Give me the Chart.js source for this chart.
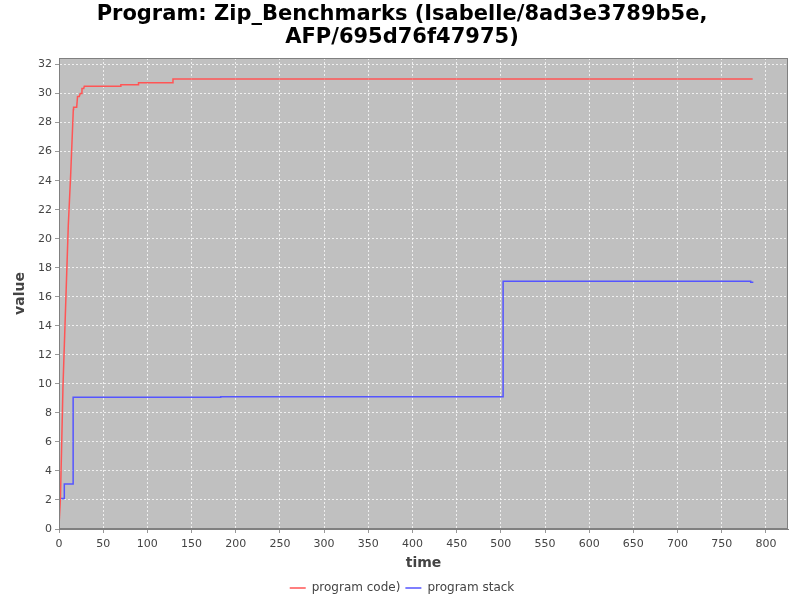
<!DOCTYPE html>
<html>
<head>
<meta charset="utf-8">
<script src="https://cdn.jsdelivr.net/npm/chart.js@4.4.0/dist/chart.umd.min.js"></script>
<style>
html, body { margin: 0; padding: 0; background: #fff; }
</style>
</head>
<body>
<canvas id="chart" width="800" height="600"></canvas>
<script>
// values
const codeTime  = [0, 1.6, 2.8, 4.5, 10.5, 13.2, 16.2, 16.5, 20, 21, 23, 24, 25.5, 26, 28, 28.6, 70, 70, 90, 90, 129, 129, 785];
const codeValue = [0.2, 2.1, 5.2, 9.8, 20.9, 24.4, 28.9, 29.05, 29.05, 29.8, 29.8, 30.0, 30.0, 30.35, 30.35, 30.5, 30.5, 30.6, 30.6, 30.75, 30.75, 31.0, 31.0];

const stackTime  = [0, 6, 6, 16, 16, 183, 183, 502.6, 502.6, 782.8, 782.8, 785.8];
const stackValue = [2.1, 2.1, 3.1, 3.1, 9.08, 9.08, 9.12, 9.12, 17.07, 17.07, 17.0, 17.0];

const seriesNames = ['program code)', 'program stack'];
const titleLines = ['Program: Zip_Benchmarks (Isabelle/8ad3e3789b5e,', 'AFP/695d76f47975)'];

function toPoints(xs, ys) {
    return xs.map((x, i) => ({ x: x, y: ys[i] }));
}

// grey plot background and outline
const plotBackground = {
    id: 'plotBackground',
    beforeDraw(chart) {
        const { ctx, chartArea: a } = chart;
        ctx.save();
        ctx.fillStyle = '#c0c0c0';
        ctx.fillRect(a.left, a.top, a.right - a.left, a.bottom - a.top);
        ctx.restore();
    },
    afterDraw(chart) {
        const { ctx, chartArea: a } = chart;
        ctx.save();
        ctx.strokeStyle = '#808080';
        ctx.lineWidth = 1;
        ctx.strokeRect(a.left + 0.5, a.top + 0.5, a.right - a.left - 1, a.bottom - a.top - 1);
        ctx.restore();
    }
};

const tickFont = { family: 'DejaVu Sans', size: 11 };
const axisTitleFont = { family: 'DejaVu Sans', size: 14, weight: 'bold', lineHeight: 1.2 };

new Chart(document.getElementById('chart'), {
    type: 'line',
    data: {
        datasets: [{
            label: seriesNames[0],
            data: toPoints(codeTime, codeValue),
            borderColor: '#ff5555',
            backgroundColor: '#ff5555',
            borderWidth: 1.5,
            pointRadius: 0,
            tension: 0
        }, {
            label: seriesNames[1],
            data: toPoints(stackTime, stackValue),
            borderColor: '#5555ff',
            backgroundColor: '#5555ff',
            borderWidth: 1.5,
            pointRadius: 0,
            tension: 0
        }]
    },
    options: {
        responsive: false,
        animation: false,
        layout: { padding: { left: 16, right: 12, top: 0, bottom: -4 } },
        scales: {
            x: {
                type: 'linear',
                min: 0,
                max: 825,
                afterFit(scale) { scale.height = 48; },
                ticks: { stepSize: 50, includeBounds: false, font: tickFont, color: '#444', padding: 5, maxRotation: 0 },
                grid: { color: 'rgba(255,255,255,0.75)', lineWidth: 1, tickLength: 4, tickColor: '#999', tickBorderDash: [] },
                border: { display: true, color: '#808080', dash: [2, 2] },
                title: { display: true, text: 'time', font: axisTitleFont, color: '#444', padding: { top: 0, bottom: 5.6 } }
            },
            y: {
                min: 0,
                max: 32.45,
                afterFit(scale) { scale.width = 43; },
                ticks: { stepSize: 2, includeBounds: false, font: tickFont, color: '#444', padding: 3 },
                grid: { color: 'rgba(255,255,255,0.75)', lineWidth: 1, tickLength: 4, tickColor: '#999', tickBorderDash: [] },
                border: { display: true, color: '#808080', dash: [2, 2] },
                title: { display: true, text: 'value', font: axisTitleFont, color: '#444', padding: { top: -4.4, bottom: 0 } }
            }
        },
        plugins: {
            title: {
                display: true,
                text: titleLines,
                color: '#000',
                font: { family: 'DejaVu Sans', size: 21, weight: 'bold', lineHeight: 1.1 },
                padding: { top: 2.5, bottom: 9.3 }
            },
            legend: {
                position: 'bottom',
                labels: {
                    usePointStyle: true,
                    pointStyle: 'line',
                    pointStyleWidth: 16,
                    font: { family: 'DejaVu Sans', size: 12 },
                    color: '#444',
                    padding: 5
                }
            },
            tooltip: { enabled: false }
        }
    },
    plugins: [plotBackground]
});
</script>
</body>
</html>
